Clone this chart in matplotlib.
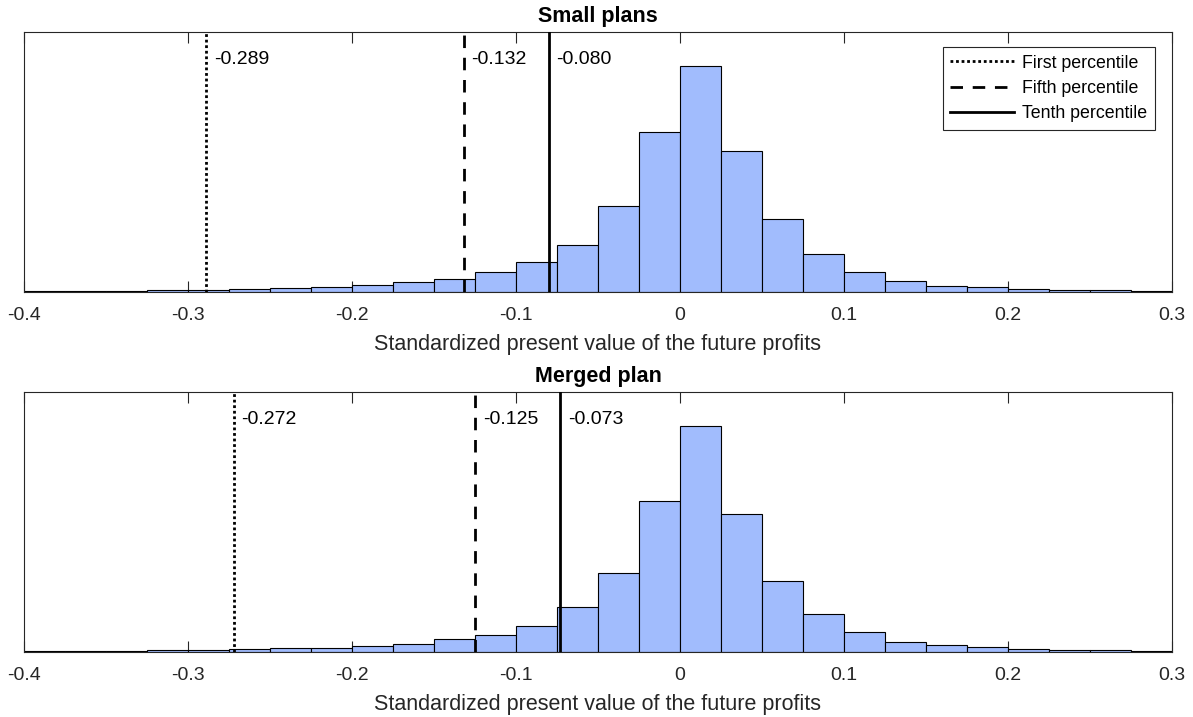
import numpy as np
import matplotlib
matplotlib.use("Agg")
import matplotlib.pyplot as plt
from matplotlib.lines import Line2D

plt.rcParams['font.family'] = ['Liberation Sans', 'DejaVu Sans']

# Bin edges: -0.4 .. 0.3 in steps of 0.025
bin_edges = np.round(np.arange(-0.4, 0.3001, 0.025), 4)

# Bar heights (relative frequency units)
small_counts = [3, 3, 3, 6, 7, 8, 11, 16, 22, 29, 39, 59, 89, 142, 258,
                480, 678, 422, 218, 115, 61, 34, 19, 14, 9, 7, 5, 3]
merged_counts = [3, 3, 3, 5, 6, 8, 11, 13, 18, 25, 38, 51, 77, 134, 236,
                 453, 678, 414, 212, 113, 59, 31, 20, 14, 9, 6, 6, 3]

small_pct = [-0.289, -0.132, -0.080]
merged_pct = [-0.272, -0.125, -0.073]
pct_names = ['First percentile', 'Fifth percentile', 'Tenth percentile']
titles = ['Small plans', 'Merged plan']
xlabel = 'Standardized present value of the future profits'
xticks = [-0.4, -0.3, -0.2, -0.1, 0, 0.1, 0.2, 0.3]
xticklabels = ['-0.4', '-0.3', '-0.2', '-0.1', '0', '0.1', '0.2', '0.3']
ymax = 780

bar_color = '#a1bcfd'
spine_color = '#262626'
styles = [(0, (1.0, 1.0)), (0, (4.5, 3.5)), '-']

fig = plt.figure(figsize=(11.93, 7.17), dpi=100)
ax_top = fig.add_axes([24/1193, 1 - 292/717, 1148/1193, 260/717])
ax_bot = fig.add_axes([24/1193, 1 - 652/717, 1148/1193, 260/717])

for ax, counts, pct, title in [(ax_top, small_counts, small_pct, titles[0]),
                               (ax_bot, merged_counts, merged_pct, titles[1])]:
    lefts = bin_edges[:-1]
    widths = np.diff(bin_edges)
    ax.bar(lefts, counts, width=widths, align='edge', color=bar_color,
           edgecolor='black', linewidth=0.8, zorder=2)
    for v, ls in zip(pct, styles):
        ax.axvline(v, color='black', linestyle=ls, linewidth=2.0, zorder=3)
        ax.annotate(f'{v:.3f}', xy=(v, 0.896), xycoords=('data', 'axes fraction'),
                    xytext=(5.5, 0), textcoords='offset points',
                    ha='left', va='center', fontsize=14, zorder=4)
    ax.set_xlim(-0.4, 0.3)
    ax.set_ylim(0, ymax)
    ax.set_yticks([])
    ax.set_xticks(xticks)
    ax.set_xticklabels(xticklabels)
    ax.tick_params(axis='x', direction='in', length=8, width=0.8, top=True,
                   labelsize=14, pad=11, color=spine_color,
                   labelcolor=spine_color)
    for s in ax.spines.values():
        s.set_color(spine_color)
        s.set_linewidth(0.8)
    ax.set_title(title, fontsize=15.5, fontweight='bold', pad=7.5)
    ax.set_xlabel(xlabel, fontsize=15.5, labelpad=7, color=spine_color)

handles = [Line2D([0], [0], color='black', linestyle=ls, linewidth=2.0)
           for ls in styles]
leg = ax_top.legend(handles, pct_names, loc='upper right', fontsize=12.8,
                    handlelength=3.6, handletextpad=0.45, borderpad=0.42,
                    labelspacing=0.47, fancybox=False, framealpha=1,
                    borderaxespad=0, edgecolor=spine_color,
                    bbox_to_anchor=(0.9852, 0.942))
leg.get_frame().set_linewidth(0.8)
for t in leg.get_texts():
    t.set_color('black')

fig.savefig('out.png', dpi=100)
